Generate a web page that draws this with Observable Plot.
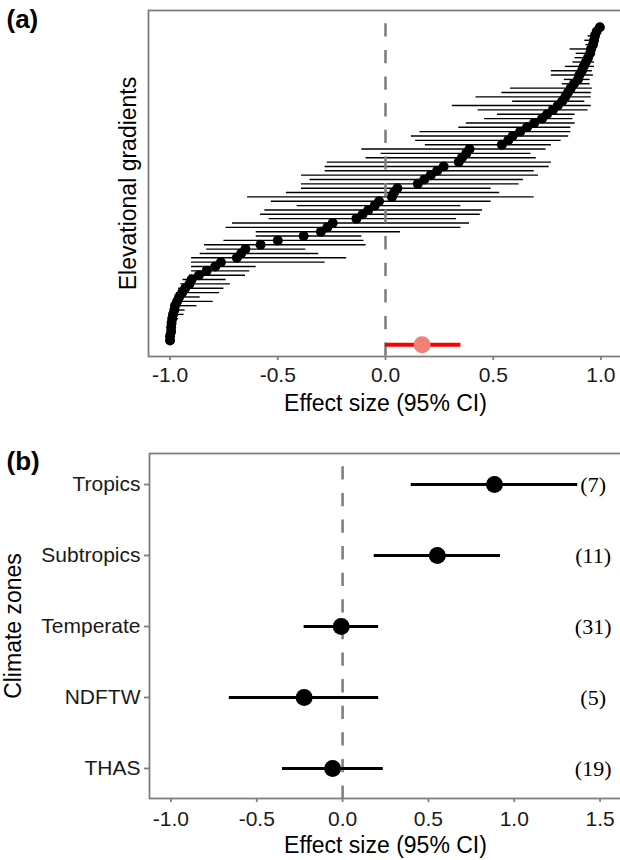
<!DOCTYPE html>
<html><head><meta charset="utf-8">
<script src="https://cdn.jsdelivr.net/npm/d3@7"></script>
<script src="https://cdn.jsdelivr.net/npm/@observablehq/plot@0.6"></script>
<style>
body{margin:0;background:#fff;font-family:"Liberation Sans",Arial,sans-serif;}
#wrap{position:relative;width:620px;height:860px;overflow:hidden;background:#fff;}
#wrap svg{position:absolute;left:0;}
</style></head><body><div id="wrap"></div>
<script>
// ---- Panel (a): elevational gradients (sorted effect sizes, 95% CI) ----
const effect = [-1.00,-1.00,-0.995,-0.995,-0.993,-0.99,-0.986,-0.98,-0.977,-0.967,
 -0.958,-0.944,-0.93,-0.91,-0.90,-0.866,-0.83,-0.79,-0.764,-0.69,
 -0.67,-0.65,-0.58,-0.50,-0.38,-0.30,-0.27,-0.245,-0.135,-0.106,
 -0.08,-0.05,-0.03,0.03,0.04,0.055,0.15,0.18,0.21,0.24,
 0.27,0.34,0.355,0.375,0.39,0.54,0.57,0.59,0.625,0.657,
 0.69,0.727,0.75,0.777,0.80,0.82,0.835,0.847,0.86,0.875,
 0.893,0.90,0.912,0.92,0.93,0.94,0.95,0.954,0.963,0.968,
 0.972,0.98,0.995];
const ciLow = [-1.00,-1.00,-1.00,-1.00,-0.997,-0.995,-0.995,-0.99,-0.99,-0.985,
 -0.975,-0.97,-0.96,-0.95,-0.94,-0.91,-0.90,-0.90,-0.90,-0.90,
 -0.86,-0.83,-0.84,-0.75,-0.60,-0.60,-0.74,-0.71,-0.54,-0.58,
 -0.56,-0.41,-0.53,-0.64,-0.46,-0.39,-0.39,-0.35,-0.39,-0.28,
 -0.28,-0.27,-0.09,-0.02,-0.11,0.185,0.14,0.12,0.16,0.34,
 0.375,0.46,0.52,0.43,0.31,0.59,0.42,0.54,0.58,0.82,
 0.83,0.77,0.77,0.835,0.87,0.88,0.885,0.857,0.93,0.925,
 0.94,0.97,0.99];
const ciHigh = [-0.995,-0.995,-0.985,-0.985,-0.975,-0.96,-0.935,-0.93,-0.875,-0.80,
 -0.86,-0.77,-0.75,-0.72,-0.74,-0.65,-0.63,-0.60,-0.28,-0.18,
 -0.31,-0.37,-0.09,-0.10,-0.11,0.07,0.35,0.39,0.33,0.44,
 0.45,0.35,0.49,0.69,0.53,0.49,0.62,0.64,0.71,0.69,
 0.76,0.77,0.70,0.675,0.745,0.77,0.815,0.85,0.86,0.86,
 0.88,0.87,0.88,0.94,0.955,0.925,0.955,0.955,0.96,0.95,
 0.95,0.965,0.96,0.97,0.97,0.963,0.975,0.975,0.985,0.985,
 0.985,0.99,1.00];
const summaryEffect = [0.17];
const summaryLow = [0.0];
const summaryHigh = [0.35];
const xTicksA = [-1.0, -0.5, 0.0, 0.5, 1.0];

// ---- Panel (b): climate zones ----
const zones = ["Tropics", "Subtropics", "Temperate", "NDFTW", "THAS"];
const zoneEffect = [0.885, 0.552, -0.008, -0.224, -0.058];
const zoneLow = [0.40, 0.184, -0.224, -0.66, -0.35];
const zoneHigh = [1.37, 0.92, 0.21, 0.21, 0.237];
const zoneN = ["(7)", "(11)", "(31)", "(5)", "(19)"];
const xTicksB = [-1.0, -0.5, 0.0, 0.5, 1.0, 1.5];

const xTitle = "Effect size (95% CI)";
const yTitleA = "Elevational gradients";
const yTitleB = "Climate zones";

// tables built from the arrays
const studies = effect.map((e, i) => ({row: i + 1, e, lo: ciLow[i], hi: ciHigh[i]}));
const summary = summaryEffect.map((e, i) => ({row: 0, e, lo: summaryLow[i], hi: summaryHigh[i]}));
const zoneData = zones.map((z, i) => ({zone: z, e: zoneEffect[i], lo: zoneLow[i], hi: zoneHigh[i], n: zoneN[i]}));

const fmt = d => d.toFixed(1);
const FONT = "Liberation Sans, Arial, sans-serif";
const GRAY = "#7f7f7f";
const dashed = {stroke: "#808080", strokeWidth: 2.6, strokeDasharray: "13.3,13.3", strokeDashoffset: 13.3};
const nLabelX = 1.46;

const A = Plot.plot({
  width: 620, height: 430,
  marginLeft: 148, marginRight: -2, marginTop: 10, marginBottom: 74,
  style: {fontFamily: FONT, background: "transparent", overflow: "visible"},
  x: {domain: [-1.1, 1.1]},
  y: {domain: [-2.68, 76.84], axis: null},
  marks: [
    Plot.ruleY(studies, {y: "row", x1: "lo", x2: "hi", stroke: "black", strokeWidth: 1.4}),
    Plot.ruleX([0], dashed),
    Plot.dot(studies, {x: "e", y: "row", r: 5, fill: "black"}),
    Plot.ruleY(summary, {y: "row", x1: "lo", x2: "hi", stroke: "#ff0000", strokeWidth: 4}),
    Plot.dot(summary, {x: "e", y: "row", r: 8.5, fill: "#f28079"}),
    Plot.frame({stroke: GRAY, strokeWidth: 1.8}),
    Plot.axisX({ticks: xTicksA, tickFormat: fmt, tickSize: 4, tickPadding: 7, fontSize: 21,
      stroke: GRAY, strokeWidth: 1.8, fill: "#1a1a1a", label: null}),
    Plot.text([xTitle], {text: d => d, frameAnchor: "bottom", dy: 47, fontSize: 23, lineAnchor: "middle", fill: "black"}),
    Plot.text([yTitleA], {text: d => d, frameAnchor: "left", dx: -20, rotate: -90, textAnchor: "middle", fontSize: 23, lineAnchor: "middle", fill: "black"}),
    Plot.text(["(a)"], {text: d => d, frameAnchor: "top-left", dx: -142, dy: 9, textAnchor: "start", lineAnchor: "middle", fontWeight: "bold", fontSize: 26, fill: "black"})
  ]
});
A.style.top = "0px";

const B = Plot.plot({
  width: 620, height: 430,
  marginLeft: 149, marginRight: -1, marginTop: 23, marginBottom: 62,
  style: {fontFamily: FONT, background: "transparent", overflow: "visible"},
  x: {domain: [-1.125, 1.625]},
  y: {type: "point", domain: zones, padding: 0.4},
  marks: [
    Plot.ruleX([0], dashed),
    Plot.ruleY(zoneData, {y: "zone", x1: "lo", x2: "hi", stroke: "black", strokeWidth: 3.2}),
    Plot.dot(zoneData, {x: "e", y: "zone", r: 8.5, fill: "black"}),
    Plot.text(zoneData, {x: () => nLabelX, y: "zone", text: "n", fontFamily: "Liberation Serif, Times New Roman, serif", fontSize: 22, fill: "black"}),
    Plot.frame({stroke: GRAY, strokeWidth: 1.8}),
    Plot.axisX({ticks: xTicksB, tickFormat: fmt, tickSize: 4, tickPadding: 9, fontSize: 21,
      stroke: GRAY, strokeWidth: 1.8, fill: "#1a1a1a", label: null}),
    Plot.axisY({tickSize: 5, tickPadding: 4, fontSize: 21, stroke: GRAY, strokeWidth: 1.8, fill: "#1a1a1a", label: null}),
    Plot.text([xTitle], {text: d => d, frameAnchor: "bottom", dy: 47, fontSize: 23, lineAnchor: "middle", fill: "black"}),
    Plot.text([yTitleB], {text: d => d, frameAnchor: "left", dx: -136, rotate: -90, textAnchor: "middle", fontSize: 23, lineAnchor: "middle", fill: "black"}),
    Plot.text(["(b)"], {text: d => d, frameAnchor: "top-left", dx: -143, dy: 8, textAnchor: "start", lineAnchor: "middle", fontWeight: "bold", fontSize: 26, fill: "black"})
  ]
});
B.style.top = "430px";

const wrap = document.getElementById("wrap");
wrap.appendChild(A);
wrap.appendChild(B);
</script>
</body></html>
